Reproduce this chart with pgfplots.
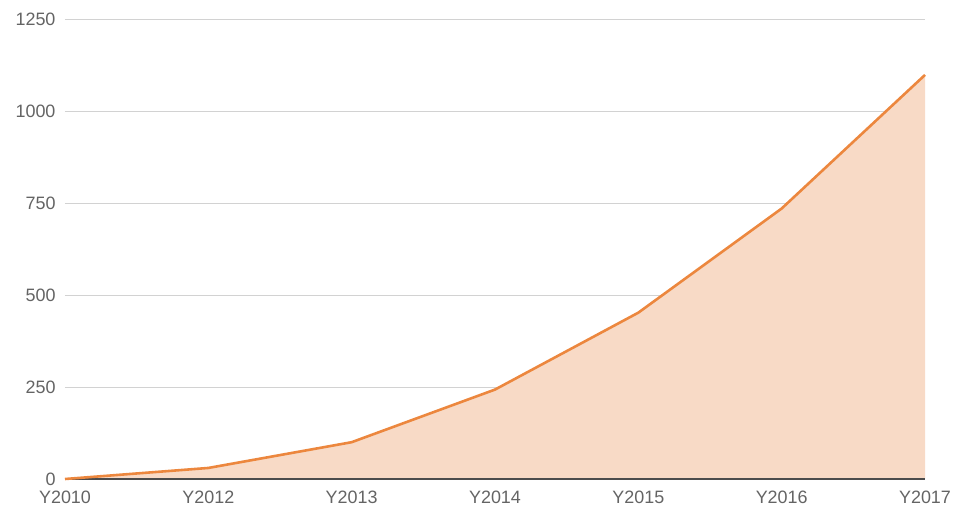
\documentclass[border=0pt]{standalone}
\usepackage{pgfplots}
\pgfplotsset{compat=1.18}
\usepackage{fontspec}
\setmainfont{Liberation Sans}
\definecolor{lineor}{RGB}{236,135,62}
\definecolor{fillor}{RGB}{248,218,198}
\definecolor{gridc}{RGB}{210,210,210}
\definecolor{txt}{RGB}{100,100,100}
\begin{document}
\begin{tikzpicture}[x=1bp,y=1bp]
\path[use as bounding box] (-65,-28) rectangle (890,479);
\begin{axis}[
  at={(0,0)}, anchor=south west,
  scale only axis, width=860bp, height=460bp,
  xmin=0, xmax=6, ymin=0, ymax=1250,
  axis line style={draw=none},
  ymajorgrids, grid style={gridc, line width=0.9pt},
  ytick={0,250,500,750,1000,1250},
  xtick=data,
  xticklabels={Y2010,Y2012,Y2013,Y2014,Y2015,Y2016,Y2017},
  major tick length=0pt,
  tick style={draw=none},
  tick label style={font=\fontsize{18}{21}\selectfont, text=txt},
  /pgf/number format/assume math mode=true,
  /pgf/number format/set thousands separator={},
  yticklabel style={anchor=east, xshift=-6bp, inner ysep=0pt},
  xticklabel style={anchor=north, yshift=-12bp, inner ysep=0pt},
  clip=false,
]
\addplot[draw=none, fill=fillor] coordinates {(0,0) (1,30) (2,100) (3,243) (4,452) (5,735) (6,1098)} \closedcycle;
\draw[black!70, line width=1.2pt] (axis cs:0,0) -- (axis cs:6,0);
\addplot[lineor, line width=2.6pt, line join=round] coordinates {(0,0) (1,30) (2,100) (3,243) (4,452) (5,735) (6,1098)};
\end{axis}
\end{tikzpicture}
\end{document}
